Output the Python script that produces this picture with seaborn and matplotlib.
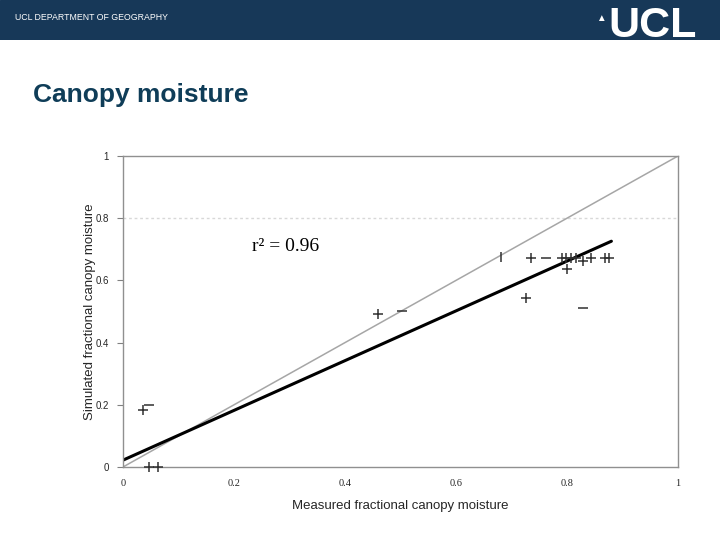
import matplotlib
matplotlib.use("Agg")
import matplotlib.pyplot as plt
import seaborn as sns
import numpy as np
import pandas as pd

# ---- data ----
x_plus = [0.036, 0.047, 0.063, 0.459, 0.735, 0.726, 0.791, 0.798, 0.807, 0.816, 0.800, 0.829, 0.843, 0.868, 0.876]
y_plus = [0.183, 0.000, 0.000, 0.492, 0.672, 0.543, 0.672, 0.672, 0.672, 0.672, 0.637, 0.662, 0.672, 0.672, 0.672]
x_dash = [0.047, 0.503, 0.762, 0.829]
y_dash = [0.199, 0.502, 0.672, 0.511]
x_bar = [0.681]
y_bar = [0.675]
fit_intercept = 0.022
fit_slope = 0.80
fit_x_range = [0.0, 0.88]
ticks = [0, 0.2, 0.4, 0.6, 0.8, 1]
x_tick_labels = ["0", "0.2", "0.4", "0.6", "0.8", "1"]
y_tick_labels = ["0", "0.2", "0.4", "0.6", "0.8", "1"]
r2_text = "r² = 0.96"
title = "Canopy moisture"
header = "UCL DEPARTMENT OF GEOGRAPHY"

sns.set_theme(style="white")
plt.rcParams['font.family'] = ['Liberation Sans', 'DejaVu Sans']

fig = plt.figure(figsize=(7.2, 5.4), dpi=100)
fig.patch.set_facecolor("white")

# header band
band = fig.add_axes([0, 1 - 40 / 540, 1, 40 / 540])
band.set_xlim(0, 1); band.set_ylim(0, 1)
band.axis("off")
band.add_patch(plt.Rectangle((0, 0), 1, 1, color="#173858", transform=band.transAxes))
band.text(15 / 720, 0.57, header, color="white", fontsize=6.3, va="center", ha="left")
band.text(697 / 720, 0.36, "UCL", color="white", fontsize=31, fontweight="bold",
          va="center", ha="right")
band.text(601 / 720, 0.55, "▲", color="white", fontsize=7, va="center", ha="center")

fig.text(33 / 720, 1 - 95 / 540, title, color="#0f3d58", fontsize=19,
         fontweight="bold", va="center", ha="left")

ax = fig.add_axes([123 / 720, 1 - 467 / 540, (678 - 123) / 720, (467 - 156) / 540])
ax.set_xlim(0, 1)
ax.set_ylim(0, 1)

# 1:1 line
one = pd.DataFrame({"x": [0, 1], "y": [0, 1]})
sns.lineplot(data=one, x="x", y="y", ax=ax, color="#a6a6a6", linewidth=1.1)

# regression line
fx = np.array(fit_x_range)
fit = pd.DataFrame({"x": fx, "y": fit_intercept + fit_slope * fx})
sns.lineplot(data=fit, x="x", y="y", ax=ax, color="black", linewidth=2.2)

# points
df_p = pd.DataFrame({"x": x_plus, "y": y_plus})
df_d = pd.DataFrame({"x": x_dash, "y": y_dash})
df_b = pd.DataFrame({"x": x_bar, "y": y_bar})
kw = dict(ax=ax, color="#303030", s=45, linewidth=1.1, clip_on=False, zorder=5)
sns.scatterplot(data=df_p, x="x", y="y", marker="+", **kw)
sns.scatterplot(data=df_d, x="x", y="y", marker="_", **kw)
sns.scatterplot(data=df_b, x="x", y="y", marker="|", **kw)

# dotted gridline at 0.8
ax.axhline(0.8, color="#d8d8d8", linewidth=1, linestyle=(0, (2, 2)), zorder=0)

ax.set_xticks(ticks)
ax.set_xticklabels(x_tick_labels, fontsize=7.5, family=["Liberation Serif", "DejaVu Serif"])
ax.set_yticks(ticks)
ax.set_yticklabels(y_tick_labels, fontsize=7)
ax.tick_params(axis="y", length=4, width=0.8, color="#808080", direction="out", left=True, pad=6)
ax.tick_params(axis="x", length=0, pad=9)
for s in ax.spines.values():
    s.set_color("#909090")
    s.set_linewidth(1)

ax.set_xlabel("Measured fractional canopy moisture", fontsize=9.5, labelpad=8)
ax.set_ylabel("Simulated fractional canopy moisture", fontsize=9.5, labelpad=0)

ax.text(0.232, 0.708, r2_text, fontsize=14, family=["Liberation Serif", "DejaVu Serif"],
        va="center", ha="left", color="black")

fig.savefig("out.png", dpi=100)
